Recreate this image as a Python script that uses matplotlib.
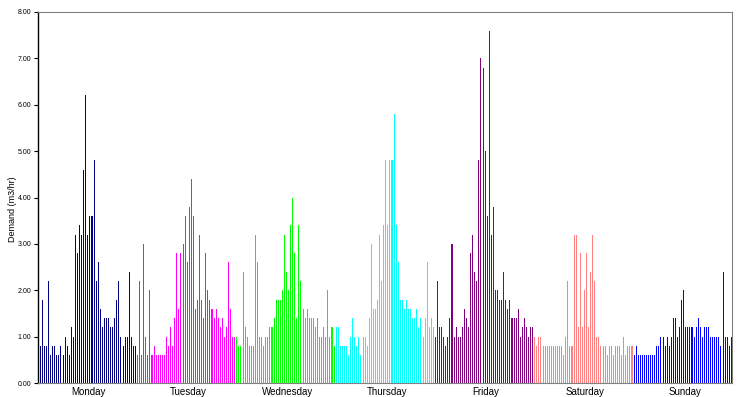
import matplotlib
matplotlib.use("Agg")
import matplotlib.pyplot as plt
import numpy as np

plt.rcParams['font.family'] = ['Liberation Sans', 'DejaVu Sans']

days = ["Monday", "Tuesday", "Wednesday", "Thursday", "Friday", "Saturday", "Sunday"]
day_colors = ["#000080", "#FF00FF", "#00FF00", "#00FFFF", "#800080", "#FF8080", "#0000FF"]

monday = [0.8, 0.8, 1.8, 0.8, 0.8, 2.2, 0.6, 0.8, 0.8, 0.6, 0.6, 0.8, 0.6, 1.0, 0.8, 0.6,
          1.2, 1.0, 3.2, 2.8, 3.4, 3.2, 4.6, 6.2, 3.2, 3.6, 3.6, 4.8, 2.2, 2.6, 1.6, 1.2,
          1.4, 1.4, 1.4, 1.2, 1.2, 1.4, 1.8, 2.2, 1.0, 0.8, 1.0, 1.0, 2.4, 1.0, 0.8, 0.8]
tuesday = [0.6, 2.2, 0.6, 3.0, 1.0, 0.6, 2.0, 0.6, 0.8, 0.6, 0.6, 0.6, 0.6, 0.6, 1.0, 0.8,
           1.2, 0.8, 1.4, 2.8, 1.6, 2.8, 3.0, 3.6, 2.6, 3.8, 4.4, 3.6, 1.6, 1.8, 3.2, 1.8,
           1.4, 2.8, 2.0, 1.8, 1.6, 1.4, 1.6, 1.4, 1.2, 1.4, 1.0, 1.2, 2.6, 1.6, 1.0, 1.0]
wednesday = [1.0, 0.8, 0.8, 2.4, 1.2, 1.0, 0.8, 0.8, 0.8, 3.2, 2.6, 1.0, 1.0, 0.8, 1.0, 1.0,
             1.2, 1.2, 1.4, 1.8, 1.8, 1.8, 2.0, 3.2, 2.4, 2.0, 3.4, 4.0, 2.8, 1.4, 3.4, 2.2,
             1.6, 1.4, 1.6, 1.4, 1.4, 1.4, 1.2, 1.4, 1.0, 1.0, 1.2, 1.0, 2.0, 1.0, 1.2, 0.8]
thursday = [1.2, 1.2, 0.8, 0.8, 0.8, 0.8, 0.6, 1.0, 1.4, 1.0, 0.8, 1.0, 0.6, 1.0, 1.0, 0.8,
            1.4, 3.0, 1.6, 1.6, 1.8, 3.2, 2.2, 3.4, 4.8, 3.4, 4.8, 4.8, 5.8, 3.4, 2.6, 1.8,
            1.8, 1.6, 1.8, 1.6, 1.6, 1.4, 1.4, 1.6, 1.2, 1.4, 1.0, 1.4, 2.6, 1.2, 1.4, 1.2]
friday = [1.0, 2.2, 1.2, 1.2, 1.0, 0.8, 1.0, 1.4, 3.0, 1.0, 1.2, 1.0, 1.0, 1.2, 1.6, 1.4,
          1.2, 2.8, 3.2, 2.4, 2.2, 4.8, 7.0, 6.8, 5.0, 3.6, 7.6, 3.2, 3.8, 2.0, 2.0, 1.8,
          1.8, 2.4, 1.8, 1.6, 1.8, 1.4, 1.4, 1.4, 1.6, 1.0, 1.2, 1.4, 1.2, 1.0, 1.2, 1.2]
saturday = [1.0, 0.8, 1.0, 1.0, 0.8, 0.8, 0.8, 0.8, 0.8, 0.8, 0.8, 0.8, 0.8, 0.8, 0.6, 1.0,
            2.2, 0.8, 0.8, 3.2, 3.2, 1.2, 2.8, 1.2, 2.0, 2.8, 1.2, 2.4, 3.2, 2.2, 1.0, 1.0,
            0.8, 0.8, 0.8, 0.6, 0.8, 0.8, 0.6, 0.8, 0.8, 0.8, 0.6, 1.0, 0.6, 0.8, 0.8, 0.8]
sunday = [0.6, 0.8, 0.6, 0.6, 0.6, 0.6, 0.6, 0.6, 0.6, 0.6, 0.6, 0.8, 0.8, 1.0, 1.0, 0.8,
          1.0, 0.8, 1.0, 1.4, 1.4, 1.0, 1.2, 1.8, 2.0, 1.2, 1.2, 1.2, 1.2, 1.0, 1.2, 1.4,
          1.2, 1.0, 1.2, 1.2, 1.2, 1.0, 1.0, 1.0, 1.0, 1.0, 0.8, 2.4, 1.0, 1.0, 0.8, 1.0]

series = [monday, tuesday, wednesday, thursday, friday, saturday, sunday]
y_ticks = [0, 1, 2, 3, 4, 5, 6, 7, 8]

fig = plt.figure(figsize=(7.41, 3.97), dpi=100)
ax = fig.add_axes([38 / 741, 1 - 383 / 397, (732 - 38) / 741, (383 - 12) / 397])

start = 0
for vals, col in zip(series, day_colors):
    x = np.arange(start, start + len(vals))
    ax.bar(x, vals, width=0.5, color=col, linewidth=0, antialiased=False, zorder=1)
    start += len(vals)

n = start
ax.set_xlim(-0.1, n - 1 + 0.34)
ax.set_ylim(0, 8)

per_day = len(monday)
ax.set_xticks([d * per_day + (per_day - 1) / 2 + 1 for d in range(len(days))])
ax.set_xticklabels(days, fontsize=7)
ax.tick_params(axis='x', length=0, pad=3)

ax.set_yticks(y_ticks)
ax.set_yticklabels(["%.2f" % v for v in y_ticks], fontsize=5)
ax.tick_params(axis='y', length=3, width=0.8, direction='out', pad=2, color='black')

ax.set_ylabel("Demand (m3/hr)", fontsize=6.5)
ax.yaxis.set_label_coords(-0.030, 0.469)

for side in ['top', 'right', 'bottom']:
    ax.spines[side].set_color('#808080')
    ax.spines[side].set_linewidth(0.8)
ax.spines['left'].set_color('black')
ax.spines['left'].set_linewidth(1.0)

fig.savefig("out.png", dpi=100)
